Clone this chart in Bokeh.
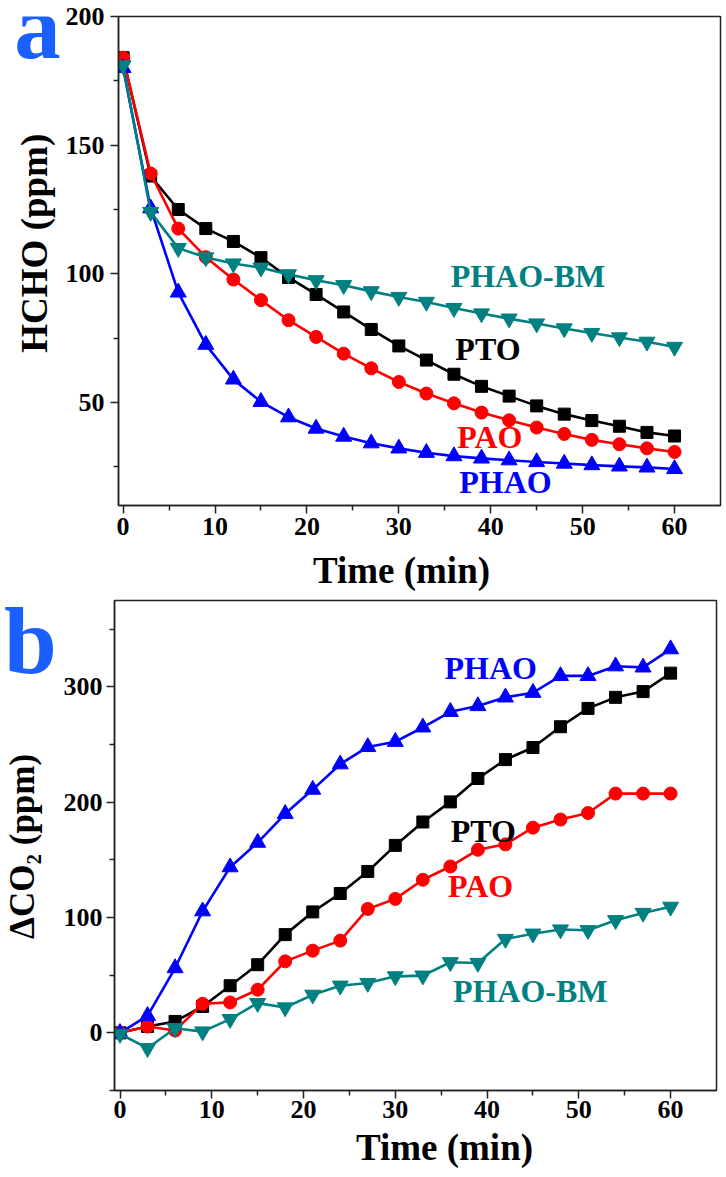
import math
from bokeh.plotting import figure
from bokeh.layouts import column, row
from bokeh.models import Range1d, FixedTicker, Label
from bokeh.core.properties import value
from bokeh.embed import file_html
from bokeh.resources import INLINE

# ---------------- data ----------------
time_min = [0, 3, 6, 9, 12, 15, 18, 21, 24, 27, 30, 33, 36, 39, 42, 45, 48, 51, 54, 57, 60]

# panel a: HCHO (ppm)
hcho_pto = [184, 138, 125, 117.6, 112.6, 106.3, 98.6, 92, 85.2, 78.4, 72, 66.5, 61, 56.3, 52.5, 48.7, 45.5, 43, 40.8, 38.4, 37]
hcho_pao = [184, 139, 117.6, 106.5, 97.8, 89.8, 82, 75.5, 69, 63.3, 58, 53.5, 49.7, 46.1, 43.1, 40.3, 37.8, 35.5, 33.8, 32.2, 30.8]
hcho_phao = [180, 125.5, 92.8, 72.5, 59, 50.3, 44.3, 39.9, 36.8, 34.2, 32.2, 30.5, 29.2, 28.3, 27.6, 26.9, 26.3, 25.7, 25.2, 24.8, 24.2]
hcho_phao_bm = [181, 124, 110, 106.4, 104, 102.4, 99.8, 97.5, 95.6, 93.2, 91, 89.1, 86.7, 84.6, 82.6, 80.7, 78.8, 77, 75.3, 73.6, 71.6]

# panel b: delta CO2 (ppm)
co2_pto = [0, 5.5, 9.9, 22.9, 40.9, 59.1, 85.2, 104.9, 120.9, 140, 162.6, 182.9, 200.3, 220.6, 237, 247.5, 265.5, 281.4, 291, 296, 312]
co2_pao = [0, 5.5, 2, 25.2, 26.4, 37.4, 62, 71.3, 80, 107.5, 116.2, 132.8, 144.3, 158.8, 163.5, 178, 185, 190.7, 207.5, 207.5, 207.5]
co2_phao = [0, 14.8, 56.2, 105.5, 143.7, 165, 190, 211, 233, 248, 252.5, 265, 278.5, 283.5, 291, 295, 309.6, 309.6, 318, 317, 332.8]
co2_phao_bm = [-1, -13.3, 4, 1.1, 11.9, 25.8, 22, 33, 40.9, 43.2, 49, 49.6, 61.2, 60.6, 81.4, 86, 89.6, 89, 97.7, 104, 109.3]

series_names = ["PTO", "PAO", "PHAO", "PHAO-BM"]
series_colors = ["#000000", "#ff0000", "#0000ff", "#008080"]
series_markers = ["square", "circle", "triangle", "inverted_triangle"]
marker_sizes = [12, 13, 16, 16]

x_ticks = [0, 10, 20, 30, 40, 50, 60]
x_minor = [5, 15, 25, 35, 45, 55]
a_y_ticks = [50, 100, 150, 200]
a_y_minor = [25, 75, 125, 175]
b_y_ticks = [0, 100, 200, 300]
b_y_minor = [-50, 50, 150, 250, 350]

x_title = "Time (min)"
a_y_title = "HCHO (ppm)"
b_y_title = "\u0394CO\u2082 (ppm)"

FONT = "Liberation Serif"
LETTER_COLOR = "#1a5fff"
PAGE_W = 724
LEFT_W = 60


def style(p, yt, ym, xstandoff, ystandoff):
    p.grid.visible = False
    p.outline_line_color = "#222222"
    p.outline_line_width = 1.5
    p.background_fill_color = "white"
    p.border_fill_color = "white"
    p.xaxis.ticker = FixedTicker(ticks=x_ticks, minor_ticks=x_minor)
    p.yaxis.ticker = FixedTicker(ticks=yt, minor_ticks=ym)
    for ax in (p.xaxis, p.yaxis):
        ax.axis_line_width = 1.5
        ax.axis_line_color = "#222222"
        ax.major_tick_out = 8
        ax.major_tick_in = 0
        ax.minor_tick_out = 5
        ax.minor_tick_in = 0
        ax.major_tick_line_width = 1.5
        ax.minor_tick_line_width = 1.5
        ax.major_tick_line_color = "#222222"
        ax.minor_tick_line_color = "#222222"
        ax.major_label_text_font = FONT
        ax.major_label_text_font_style = "bold"
        ax.major_label_text_font_size = "26px"
        ax.major_label_text_color = "black"
    p.xaxis.major_label_standoff = xstandoff
    p.yaxis.major_label_standoff = ystandoff


def add_series(p, ys):
    for ydata, col, mk, sz in zip(ys, series_colors, series_markers, marker_sizes):
        p.line(time_min, ydata, line_color=col, line_width=2.6)
        p.scatter(time_min, ydata, marker=mk, size=sz, fill_color=col, line_color=col)


def lab(p, x, y, text, color):
    p.add_layout(Label(x=x, y=y, text=text, text_color=color, text_font=FONT,
                       text_font_style="bold", text_font_size="32px",
                       text_align="center", text_baseline="alphabetic"))


def blank(width, height, top, left=0):
    # a plain canvas whose coordinates follow page pixels (y grows downwards)
    p = figure(width=width, height=height,
               x_range=Range1d(left, left + width), y_range=Range1d(top + height, top),
               output_backend="svg", toolbar_location=None,
               x_axis_location=None, y_axis_location=None,
               min_border_left=0, min_border_right=0, min_border_top=0, min_border_bottom=0)
    p.grid.visible = False
    p.outline_line_color = None
    p.background_fill_color = "white"
    p.border_fill_color = "white"
    return p


def txt(p, x, y, text, size, color="black", angle=0.0):
    p.text(x=[x], y=[y], text=[text], text_font=value(FONT), text_font_style="bold",
           text_font_size=size, text_color=color, text_align="center",
           text_baseline="alphabetic", angle=angle)


# ---------------- panel a ----------------
A_TOP, A_H = 0, 550
pa = figure(width=PAGE_W - LEFT_W, height=A_H, x_range=Range1d(-0.5, 65), y_range=Range1d(10, 200),
            output_backend="svg", toolbar_location=None,
            min_border_left=58, min_border_right=4, min_border_top=16, min_border_bottom=45)
style(pa, a_y_ticks, a_y_minor, 4, 6)
add_series(pa, [hcho_pto, hcho_pao, hcho_phao, hcho_phao_bm])
lab(pa, 44.05, 99.0, "PHAO-BM", series_colors[3])
lab(pa, 39.7, 71.0, "PTO", series_colors[0])
lab(pa, 39.9, 36.8, "PAO", series_colors[1])
lab(pa, 41.6, 19.3, "PHAO", series_colors[2])

la = blank(LEFT_W, A_H, A_TOP)
txt(la, 37, 11, "a", "93px", LETTER_COLOR)
txt(la, 34, 255, a_y_title, "37px", angle=math.pi / 2)

TA_TOP, TA_H = 550, 46
ta = blank(PAGE_W, TA_H, TA_TOP)
txt(ta, 401, 570, x_title, "37px")

# ---------------- panel b ----------------
B_TOP, B_H = 596, 536
pb = figure(width=PAGE_W - LEFT_W, height=B_H, x_range=Range1d(-0.6, 65), y_range=Range1d(-50, 375),
            output_backend="svg", toolbar_location=None,
            min_border_left=53, min_border_right=8, min_border_top=4, min_border_bottom=42)
style(pb, b_y_ticks, b_y_minor, 2, 4)
add_series(pb, [co2_pto, co2_pao, co2_phao, co2_phao_bm])
lab(pb, 40.4, 316.5, "PHAO", series_colors[2])
lab(pb, 39.6, 175.5, "PTO", series_colors[0])
lab(pb, 39.3, 127, "PAO", series_colors[1])
lab(pb, 44.7, 36.5, "PHAO-BM", series_colors[3])

lb = blank(LEFT_W, B_H, B_TOP)
txt(lb, 30, 640, "b", "95px", LETTER_COLOR)
txt(lb, 22, 865, b_y_title, "35px", angle=math.pi / 2)

TB_TOP, TB_H = 1132, 45
tb = blank(PAGE_W, TB_H, TB_TOP)
txt(tb, 444, 1147, x_title, "37px")

layout = column(row(la, pa, spacing=0), ta, row(lb, pb, spacing=0), tb, spacing=0)
open("out.html", "w").write(file_html(layout, INLINE))
